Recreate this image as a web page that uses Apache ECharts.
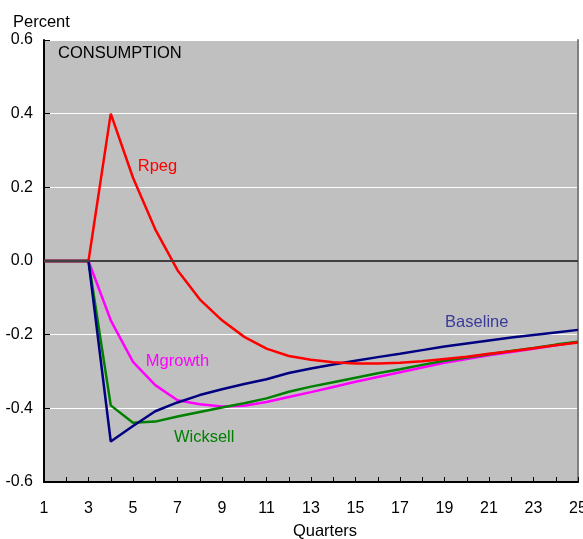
<!DOCTYPE html>
<html>
<head>
<meta charset="utf-8">
<script src="https://cdn.jsdelivr.net/npm/echarts@6/dist/echarts.min.js"></script>
<style>
  html, body { margin: 0; padding: 0; background: #fff; }
  #chart { width: 583px; height: 539px; }
</style>
</head>
<body>
<div id="chart"></div>
<script>
// quarters 1..25
const quarters = [1,2,3,4,5,6,7,8,9,10,11,12,13,14,15,16,17,18,19,20,21,22,23,24,25];
const yTicks = [-0.6, -0.4, -0.2, 0.0, 0.2, 0.4, 0.6];

const baseline = [0, 0, 0, -0.490, -0.448, -0.408, -0.384, -0.364, -0.348, -0.334, -0.321, -0.304, -0.292, -0.281, -0.271, -0.261, -0.252, -0.242, -0.232, -0.224, -0.216, -0.208, -0.201, -0.194, -0.187];
const rpeg = [0, 0, 0, 0.400, 0.226, 0.086, -0.025, -0.104, -0.161, -0.206, -0.238, -0.258, -0.268, -0.275, -0.278, -0.278, -0.276, -0.272, -0.266, -0.260, -0.252, -0.245, -0.237, -0.229, -0.221];
const wicksell = [0, 0, 0, -0.392, -0.439, -0.436, -0.422, -0.410, -0.398, -0.386, -0.373, -0.355, -0.341, -0.329, -0.317, -0.305, -0.294, -0.282, -0.271, -0.262, -0.253, -0.244, -0.236, -0.227, -0.219];
const mgrowth = [0, 0, 0, -0.161, -0.274, -0.337, -0.378, -0.389, -0.395, -0.393, -0.383, -0.369, -0.356, -0.342, -0.328, -0.315, -0.302, -0.289, -0.276, -0.266, -0.256, -0.247, -0.238, -0.229, -0.220];

const FONT = '"Liberation Sans", Arial, sans-serif';
const FS = 16.5;

function pairs(vals) {
  return quarters.map((q, i) => [q, vals[i]]);
}

function lineSeries(name, vals, color, labelAt) {
  return {
    name: name,
    type: 'line',
    data: pairs(vals),
    symbol: 'none',
    smooth: false,
    lineStyle: { width: 2.5, color: color },
    z: 3,
    markPoint: {
      symbol: 'circle',
      symbolSize: 0,
      silent: true,
      data: [{ coord: labelAt, value: name }],
      label: {
        show: true,
        position: 'inside',
        formatter: name,
        color: labelAt[2],
        fontFamily: FONT,
        fontSize: FS
      }
    }
  };
}

const chart = echarts.init(document.getElementById('chart'));

const option = {
  animation: false,
  backgroundColor: '#ffffff',
  textStyle: { fontFamily: FONT },
  grid: {
    left: 44, right: 5, top: 40, bottom: 57,
    outerBoundsMode: 'none',
    containLabel: false,
    show: true,
    backgroundColor: '#c0c0c0',
    borderWidth: 0
  },
  graphic: [
    { type: 'text', left: 13, top: 14, style: { text: 'Percent', font: FS + 'px ' + FONT, fill: '#000' } },
    { type: 'text', left: 58, top: 45, style: { text: 'CONSUMPTION', font: FS + 'px ' + FONT, fill: '#000' } }
  ],
  xAxis: {
    type: 'value',
    min: 1,
    max: 25,
    interval: 1,
    name: 'Quarters',
    nameLocation: 'middle',
    nameGap: 41,
    nameTextStyle: { color: '#000', fontSize: FS, fontFamily: FONT, padding: [0, 0, 0, 28] },
    axisLine: { show: true, onZero: false, lineStyle: { color: '#000', width: 2 } },
    axisTick: { show: true, inside: true, length: 5, lineStyle: { color: '#000', width: 1 } },
    axisLabel: {
      color: '#000', fontSize: 16, fontFamily: FONT, margin: 19,
      showMaxLabel: true,
      hideOverlap: false,
      formatter: v => (v % 2 === 1 ? String(v) : '')
    },
    splitLine: { show: false }
  },
  yAxis: [{
    type: 'value',
    min: yTicks[0],
    max: yTicks[yTicks.length - 1],
    interval: 0.2,
    axisLine: { show: true, onZero: false, lineStyle: { color: '#000', width: 2 } },
    axisTick: { show: true, inside: true, length: 6, lineStyle: { color: '#000', width: 1 } },
    axisLabel: {
      color: '#000', fontSize: 16, fontFamily: FONT, margin: 11,
      padding: [5, 0, 0, 0],
      formatter: v => v.toFixed(1)
    },
    splitLine: { show: true, lineStyle: { color: '#ffffff', width: 1 } }
  }, {
    type: 'value',
    position: 'right',
    min: yTicks[0],
    max: yTicks[yTicks.length - 1],
    axisLine: { show: true, onZero: false, lineStyle: { color: '#808080', width: 2 } },
    axisTick: { show: false },
    axisLabel: { show: false },
    splitLine: { show: false }
  }],
  series: [
    {
      name: 'zero',
      type: 'line',
      data: [],
      markLine: {
        silent: true,
        symbol: 'none',
        label: { show: false },
        lineStyle: { color: '#404040', width: 2, type: 'solid' },
        data: [{ yAxis: 0 }]
      },
      z: 2
    },
    lineSeries('Mgrowth', mgrowth, '#ff00ff', [7.0, -0.272, '#ff00ff']),
    lineSeries('Wicksell', wicksell, '#008000', [8.2, -0.478, '#008000']),
    lineSeries('Baseline', baseline, '#000080', [20.45, -0.168, '#3a3a9a']),
    lineSeries('Rpeg', rpeg, '#ff0000', [6.1, 0.257, '#ff0000'])
  ]
};

chart.setOption(option);
</script>
</body>
</html>
